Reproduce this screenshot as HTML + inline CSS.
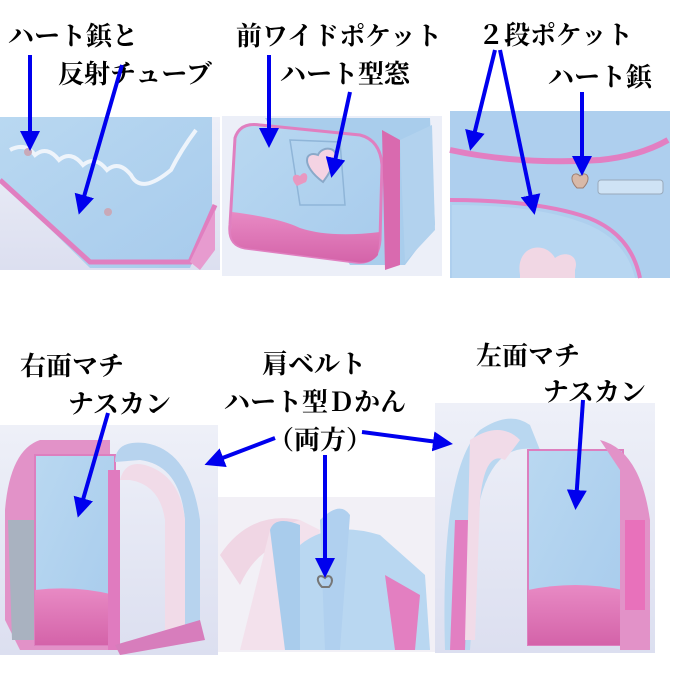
<!DOCTYPE html>
<html><head><meta charset="utf-8"><style>
html,body{margin:0;padding:0;background:#fff;}
svg{display:block;}
text{font-family:"Liberation Serif","Noto Serif CJK JP","Noto Serif CJK SC",serif;font-size:26px;font-weight:bold;fill:#000;}
</style></head><body>
<svg width="700" height="700" viewBox="0 0 700 700" xmlns="http://www.w3.org/2000/svg">
<defs>
<linearGradient id="bg" x1="0" y1="0" x2="0" y2="1"><stop offset="0" stop-color="#eef0f8"/><stop offset="1" stop-color="#dcdff0"/></linearGradient>
<linearGradient id="bl" x1="0" y1="0" x2="1" y2="1"><stop offset="0" stop-color="#b9d8f1"/><stop offset="1" stop-color="#a7cbec"/></linearGradient>
<linearGradient id="pk" x1="0" y1="0" x2="0" y2="1"><stop offset="0" stop-color="#e88ac4"/><stop offset="1" stop-color="#d463a9"/></linearGradient>
<marker id="ah" markerWidth="5" markerHeight="5" refX="3" refY="2.5" orient="auto" markerUnits="strokeWidth"><path d="M0,0 L5,2.5 L0,5 z" fill="#0000ee"/></marker>
</defs>

<!-- Photo 1 -->
<rect x="0" y="117" width="220" height="153" fill="url(#bg)"/>
<path d="M0,117 L212,117 L212,215 L190,268 L90,268 L0,180 z" fill="url(#bl)"/>
<path d="M0,180 L90,262 L190,262 L215,205" fill="none" stroke="#e07fc0" stroke-width="5"/>
<path d="M190,262 L215,210 L215,250 L200,270" fill="#e79bcf"/>
<path d="M10,150 q15,-8 25,5 q12,-10 24,5 q12,-10 24,5 q12,-10 24,5 q12,-10 24,5 q10,20 40,-5 q10,-20 25,-40" fill="none" stroke="#eef4fb" stroke-width="4"/>
<circle cx="28" cy="152" r="4" fill="#c9a9b8"/>
<circle cx="108" cy="212" r="4" fill="#c9a9b8"/>

<!-- Photo 2 -->
<rect x="222" y="116" width="220" height="160" fill="#eceff8"/>
<path d="M265,118 L430,118 L435,225 L405,265 L350,265 Z" fill="#a9cdec"/>
<path d="M235,138 Q240,122 260,125 L360,135 Q380,140 382,165 L380,240 Q378,265 355,262 L245,248 Q228,245 230,225 Z" fill="url(#bl)" stroke="#e07fc0" stroke-width="3"/>
<path d="M232,212 Q280,218 300,228 Q330,238 380,232 L378,255 Q370,265 355,262 L245,248 Q230,245 231,230 Z" fill="url(#pk)"/>
<path d="M290,140 L340,142 L345,205 L300,205 Z" fill="none" stroke="#8fb5d8" stroke-width="1.5"/>
<path d="M323,182 C300,165 305,150 318,155 C322,145 340,147 335,160 C332,170 326,178 323,182Z" fill="#f4d3e3" stroke="#8aa9c9" stroke-width="2"/>
<path d="M297,186 c-8,-8 -3,-14 3,-10 c4,-6 10,-2 6,6 z" fill="#e897c0"/>
<path d="M382,130 L400,140 L400,265 L385,270 Z" fill="#d96aaf"/>
<path d="M400,140 L432,125 L435,230 L405,262 Z" fill="#b2d2ee"/>

<!-- Photo 3 -->
<rect x="450" y="111" width="220" height="167" fill="#aecfee"/>
<path d="M450,150 Q520,165 600,160 Q640,156 668,140" fill="none" stroke="#e27fc2" stroke-width="6"/>
<path d="M450,200 Q530,200 580,215 Q630,230 640,278" fill="none" stroke="#e27fc2" stroke-width="4"/>
<path d="M452,205 Q530,205 575,220 Q625,235 635,278 L452,278 Z" fill="#b7d6f1"/>
<path d="M520,275 C515,245 545,240 555,258 C565,250 580,255 575,270 L575,278 L520,278 Z" fill="#f1d7e4"/>
<path d="M577,188 c-10,-10 -3,-18 3,-12 c6,-6 13,2 3,12 z" fill="#d8b9a8" stroke="#9c7d70"/>
<rect x="598" y="180" width="65" height="14" rx="3" fill="#cfe3f5" stroke="#9ab"/>

<!-- Photo 4 -->
<rect x="0" y="425" width="218" height="230" fill="url(#bg)"/>
<path d="M5,620 L5,510 Q10,450 40,440 L110,440 L110,650 L20,650 Z" fill="#e292c8"/>
<path d="M8,520 L40,520 L40,640 L12,640 Z" fill="#a9b2c0"/>
<rect x="35" y="455" width="80" height="190" fill="url(#bl)" stroke="#dd7fbf" stroke-width="2"/>
<path d="M35,590 Q75,585 115,595 L115,645 L35,645 Z" fill="url(#pk)"/>
<rect x="108" y="470" width="12" height="180" fill="#e07bbf"/>
<path d="M115,462 Q115,440 145,443 Q190,450 200,520 L200,640 L185,640 L185,520 Q180,465 140,460 Z" fill="#b7d3ee"/>
<path d="M120,480 Q125,460 145,465 Q180,475 185,520 L185,640 L165,640 L165,520 Q160,485 130,480 Z" fill="#f1dbe8"/>
<path d="M115,645 L200,620 L205,640 L120,655 Z" fill="#d77dbc"/>

<!-- Photo 5 -->
<rect x="218" y="497" width="218" height="155" fill="#f2f0f6"/>
<path d="M220,555 Q250,510 300,520 L305,540 Q260,540 240,585 Z" fill="#f0d6e4"/>
<path d="M270,530 L300,520 L320,530 L300,650 L240,650 Z" fill="#f3e1ec"/>
<path d="M270,530 Q275,515 300,525 L300,650 L285,650 Z" fill="#a9ccec"/>
<path d="M300,545 Q330,520 380,535 L425,575 L430,650 L300,650 Z" fill="#b9d7f1"/>
<path d="M320,520 Q340,500 350,515 L340,650 L325,650 Z" fill="#b0d0ef"/>
<path d="M385,575 L420,595 L415,650 L395,650 Z" fill="#e37fc1"/>
<path d="M322,587 c-8,-8 -3,-14 3,-9 c4,-5 11,1 4,9 z" fill="none" stroke="#777" stroke-width="2"/>

<!-- Photo 6 -->
<rect x="435" y="403" width="220" height="250" fill="url(#bg)"/>
<path d="M445,650 Q440,470 480,430 Q510,410 530,425 L540,450 Q495,440 480,500 L470,650 Z" fill="#b9d7f0"/>
<path d="M455,520 L470,520 L465,650 L450,650 Z" fill="#e27fc2"/>
<path d="M470,440 Q500,420 520,440 L505,460 Q485,450 480,500 L475,640 L465,640 Z" fill="#f1dbe8"/>
<rect x="528" y="450" width="95" height="195" fill="url(#bl)" stroke="#dd7fbf" stroke-width="2"/>
<path d="M528,590 Q575,580 623,590 L623,645 L528,645 Z" fill="url(#pk)"/>
<path d="M600,440 Q640,450 650,520 L650,650 L620,650 L620,470 Z" fill="#e292c8"/>
<rect x="625" y="520" width="20" height="90" fill="#e871bb"/>

<!-- Labels -->
<text x="8" y="45">ハート鋲と</text>
<text x="58" y="83">反射チューブ</text>
<text x="236" y="45">前ワイドポケット</text>
<text x="280" y="83">ハート型窓</text>
<text x="478" y="44">２段ポケット</text>
<text x="548" y="86">ハート鋲</text>
<text x="20" y="375">右面マチ</text>
<text x="68" y="413">ナスカン</text>
<text x="262" y="373">肩ベルト</text>
<text x="224" y="411">ハート型Ｄかん</text>
<text x="268" y="449">（両方）</text>
<text x="476" y="365">左面マチ</text>
<text x="543" y="401">ナスカン</text>

<!-- Arrows -->
<g stroke="#0000ee" stroke-width="4" fill="none" marker-end="url(#ah)">
<line x1="30" y1="55" x2="30" y2="143"/>
<line x1="122" y1="65" x2="81" y2="207"/>
<line x1="269" y1="55" x2="269" y2="140"/>
<line x1="350" y1="92" x2="333" y2="170"/>
<line x1="495" y1="50" x2="472" y2="143"/>
<line x1="500" y1="50" x2="533" y2="207"/>
<line x1="582" y1="92" x2="582" y2="168"/>
<line x1="108" y1="413" x2="80" y2="510"/>
<line x1="275" y1="438" x2="212" y2="462"/>
<line x1="362" y1="432" x2="445" y2="443"/>
<line x1="325" y1="455" x2="325" y2="570"/>
<line x1="583" y1="400" x2="576" y2="502"/>
</g>
</svg>
</body></html>
